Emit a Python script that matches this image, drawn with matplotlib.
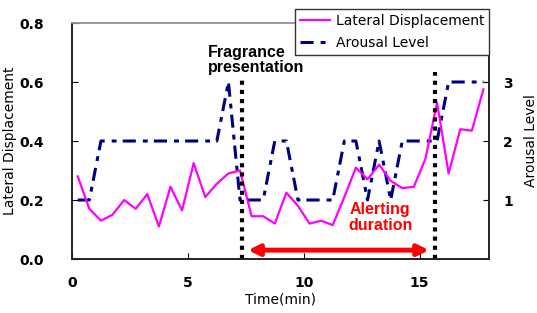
import numpy as np
import matplotlib
matplotlib.use("Agg")
import matplotlib.pyplot as plt

# time stamps (min) and readings
time = np.arange(0.25, 18.0, 0.5)
lateral = [0.28, 0.17, 0.13, 0.15, 0.20, 0.17, 0.22, 0.11, 0.245, 0.165,
           0.325, 0.21, 0.255, 0.29, 0.30, 0.145, 0.145, 0.12, 0.225, 0.18,
           0.12, 0.13, 0.115, 0.21, 0.31, 0.27, 0.32, 0.265, 0.24, 0.245,
           0.34, 0.53, 0.29, 0.44, 0.435, 0.575]
arousal = [1, 1, 2, 2, 2, 2, 2, 2, 2, 2, 2, 2, 2, 3, 1, 1, 1, 2, 2, 1,
           1, 1, 1, 2, 2, 1, 2, 1, 2, 2, 2, 2, 3, 3, 3, 3]

fragrance_t = 7.32
end_t = 15.65
arrow_start, arrow_end = 7.6, 15.4

fig = plt.figure(figsize=(5.37, 3.13), dpi=100)
ax = fig.add_axes([0.134, 0.1725, 0.777, 0.754])
ax2 = ax.twinx()

l1, = ax.plot(time, lateral, color='#ff00ff', lw=1.6, label='Lateral Displacement')
l2, = ax2.plot(time, arousal, color='#000080', lw=2.2, dashes=(4.3, 2.3, 1.6, 2),
               label='Arousal Level')

# markers for fragrance start / end of alerting
ax.plot([fragrance_t, fragrance_t], [0, 0.62], color='black', lw=3, ls=(0, (1, 1.2)))
ax.plot([end_t, end_t], [0, 0.635], color='black', lw=3, ls=(0, (1, 1.2)))

ax.annotate('', xy=(arrow_start, 0.03), xytext=(arrow_end, 0.03),
            arrowprops=dict(arrowstyle='<|-|>', color='red', lw=3.5,
                            mutation_scale=16, shrinkA=0, shrinkB=0))
ax.text(13.3, 0.14, 'Alerting\nduration', color='red', fontweight='bold',
        fontsize=11.5, ha='center', va='center', family='Liberation Sans',
        linespacing=1.05)
ax.text(5.85, 0.675, 'Fragrance\npresentation', color='black', fontweight='bold',
        fontsize=11.5, ha='left', va='center', family='Liberation Sans',
        linespacing=1.05)

ax.set_xlim(0, 18)
ax.set_ylim(0, 0.8)
ax2.set_ylim(0, 4)
ax.set_xticks([0, 5, 10, 15])
ax.set_yticks([0, 0.2, 0.4, 0.6, 0.8])
ax.set_yticklabels(['0.0', '0.2', '0.4', '0.6', '0.8'])
ax2.set_yticks([1, 2, 3])

for a in (ax, ax2):
    for lab in a.get_xticklabels() + a.get_yticklabels():
        lab.set_fontweight('bold')
        lab.set_fontsize(10)
    for s in a.spines.values():
        s.set_linewidth(1.2)
        s.set_color('#222222')
    a.spines['top'].set_color('#999999')

ax.tick_params(axis='x', direction='in', length=4, pad=12)
ax.tick_params(axis='y', direction='in', length=4, pad=20)
ax2.tick_params(axis='y', direction='in', length=4, pad=10)

ax.set_xlabel('Time(min)', fontsize=10, labelpad=2)
ax.set_ylabel('Lateral Displacement', fontsize=10, labelpad=2)
ax2.set_ylabel('Arousal Level', fontsize=10, labelpad=8)

leg = ax.legend(handles=[l1, l2], loc='upper right', bbox_to_anchor=(1.0, 1.058),
                fontsize=10, frameon=True, fancybox=False, framealpha=1,
                edgecolor='#333333', borderpad=0.35, handlelength=2.2,
                labelspacing=0.55, handletextpad=0.4, borderaxespad=0)
leg.get_frame().set_linewidth(1.0)
leg.set_zorder(10)
ax.set_zorder(ax2.get_zorder() + 1)
ax.patch.set_visible(False)

fig.savefig('out.png', dpi=100)
